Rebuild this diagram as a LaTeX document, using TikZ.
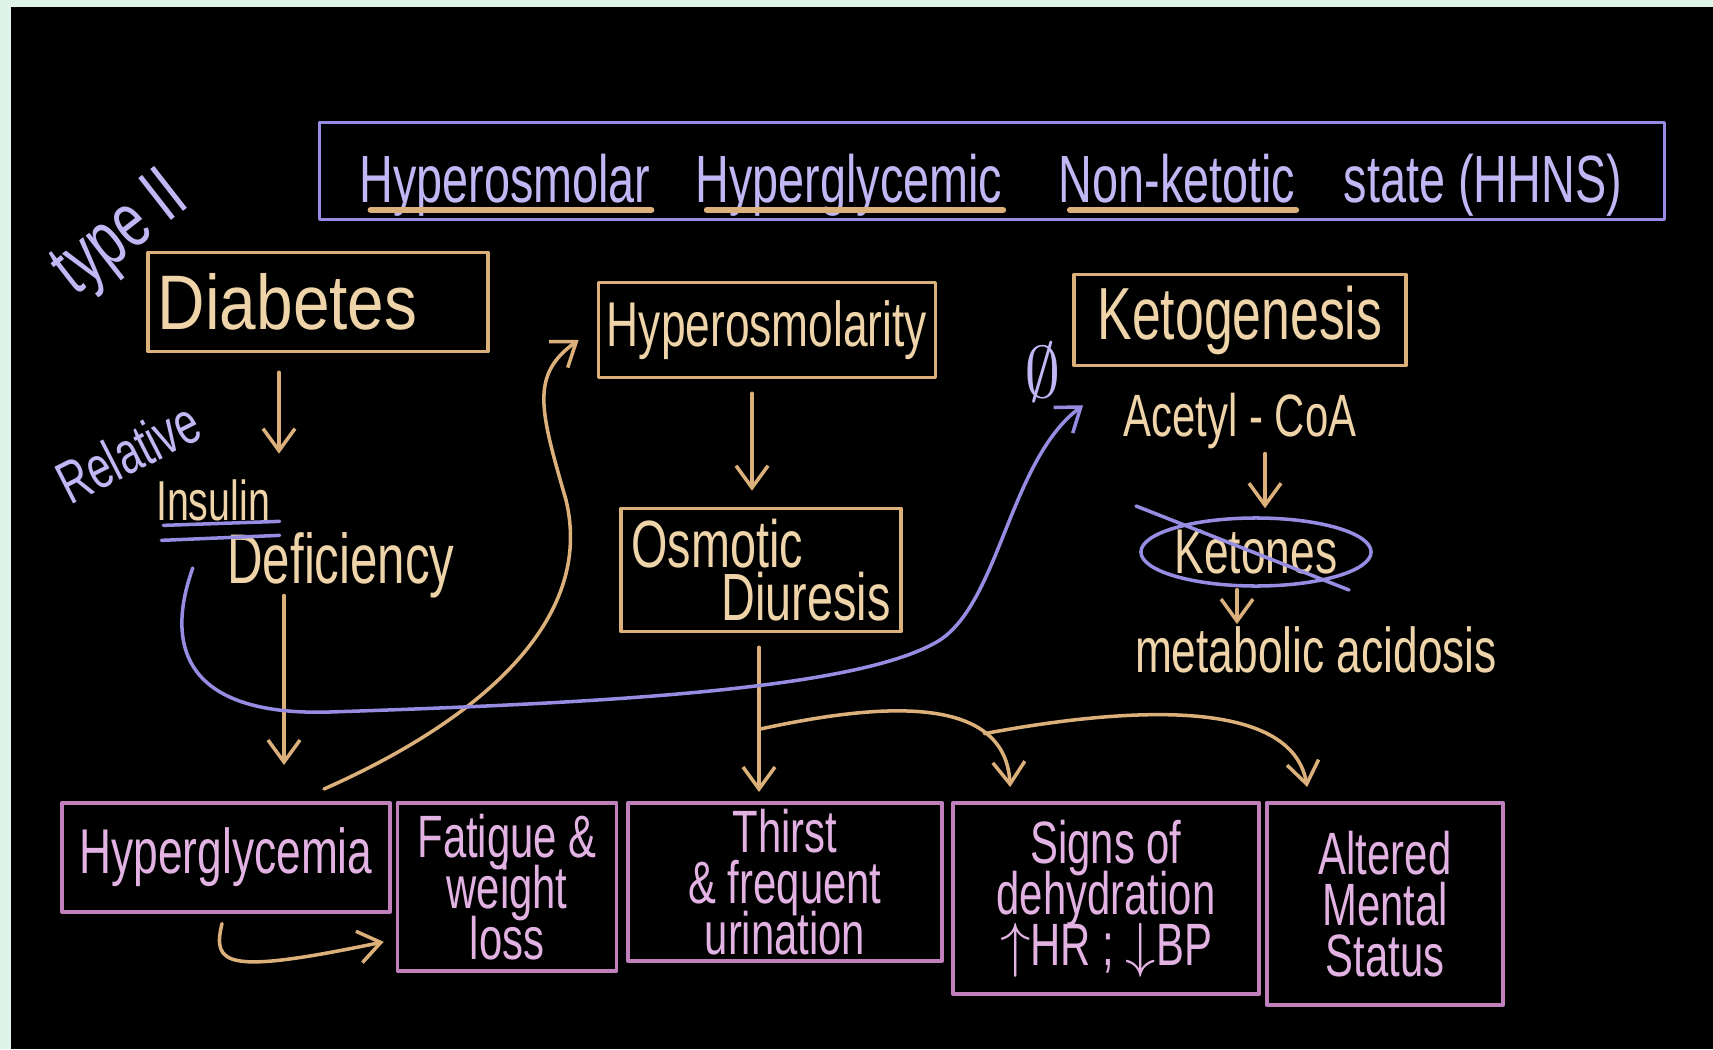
\documentclass[tikz,border=0pt]{standalone}
\usepackage{amsmath, amssymb}
\usepackage{fontspec}
\setmainfont{Liberation Sans}[FakeStretch=0.7]
\newfontfamily\widehand{Liberation Sans}[FakeStretch=0.85]
\usetikzlibrary{arrows.meta, shapes.geometric, calc}

\definecolor{mint}{RGB}{222,244,234}
\definecolor{lavline}{RGB}{150,140,225}
\definecolor{lavtxt}{RGB}{192,184,245}
\definecolor{tanline}{RGB}{220,176,122}
\definecolor{tantxt}{RGB}{238,212,168}
\definecolor{pinkline}{RGB}{192,128,188}
\definecolor{pinktxt}{RGB}{226,178,226}

\newcommand{\fsz}[1]{\fontsize{#1}{#1}\selectfont}
\newcommand{\tightlines}{\fontsize{17}{14.5}\selectfont\lineskiplimit-20pt\relax}

\begin{document}
\begin{tikzpicture}[x = 0.01cm, y = -0.01cm,
        every node/.style = {inner sep = 0pt},
        hand/.style = {line width = 1pt, line cap = round, line join = round},
        arr/.style = {hand, -{Straight Barb[length = 2.2mm, width = 3.2mm]}},
        tanbox/.style = {draw = tanline, hand, text = tantxt},
        pinkbox/.style = {draw = pinkline, hand, text = pinktxt, anchor = north, align = center, font = \tightlines},
        lavword/.style = {text = lavtxt},
        tanword/.style = {text = tantxt},
        uline/.style = {tanline, line width = 1.8pt, line cap = round}]

            % board
            \useasboundingbox (0,0) rectangle (1713,1049);
            \fill[mint] (0,0) rectangle (1713,1049);
            \fill[black] (11,7) rectangle (1713,1049);

            % title
            \node (ttl) [draw = lavline, hand, minimum width = 13.44cm, minimum height = 0.97cm] at (992,171) {};
            \node (w1) [lavword, anchor = base, font = \fsz{19}] at (505,203) {Hyperosmolar};
            \node (w2) [lavword, anchor = base, font = \fsz{19}] at (849,203) {Hyperglycemic};
            \node (w3) [lavword, anchor = base, font = \fsz{19}] at (1177,203) {Non-ketotic};
            \node (w4) [lavword, anchor = base, font = \fsz{19}] at (1483,203) {state (HHNS)};
            \draw[uline] ($(w1.base west)+(12,7)$) -- ($(w1.base east)+(0,7)$);
            \draw[uline] ($(w2.base west)+(12,7)$) -- ($(w2.base east)+(0,7)$);
            \draw[uline] ($(w3.base west)+(12,7)$) -- ($(w3.base east)+(0,7)$);

            % left column
            \node (typ) [lavword, rotate = 38, font = \fsz{22}] at (122,236) {type II};
            \node (dia) [tanbox, minimum width = 3.4cm, minimum height = 0.99cm, text width = 3.2cm, align = left, font = \widehand\fsz{22}] at (318,302) {Diabetes};
            \node (rel) [lavword, rotate = 27, font = \fsz{17}] at (128,452) {Relative};
            \node (ins) [tanword, font = \fsz{16}] at (213,500) {Insulin};
            \node (def) [tanword, font = \fsz{20}] at (341,565) {Deficiency};
            \draw[lavline, hand] ($(ins.south west)+(8,4)$) -- ($(ins.south east)+(9,0)$);
            \draw[lavline, hand] ($(ins.south west)+(6,19)$) -- ($(ins.south east)+(9,14)$);

            % middle column
            \node (hos) [tanbox, minimum width = 3.37cm, minimum height = 0.95cm, font = \fsz{18}] at (767,330) {Hyperosmolarity};
            \node (osm) [tanbox, minimum width = 2.8cm, minimum height = 1.23cm, align = left, font = \fontsize{19}{15}\selectfont] at (761,570) {Osmotic\\\hspace*{0.9cm}Diuresis};

            % right column
            \node (keto) [tanbox, minimum width = 3.32cm, minimum height = 0.91cm, font = \fsz{21}] at (1240,320) {Ketogenesis};
            \node (nul) [lavword, font = \fsz{20}] at (1043,372) {$\emptyset$};
            \node (acoa) [tanword, font = \fsz{17}] at (1240,421) {Acetyl - CoA};
            \node (ket) [ellipse, draw = lavline, hand, text = tantxt, minimum width = 2.3cm, minimum height = 0.68cm, font = \fsz{18}] at (1256,552) {Ketones};
            \draw[lavline, hand] ($(ket.center)+(-120,-46)$) -- ($(ket.center)+(93,38)$);
            \node (acid) [tanword, font = \fsz{18}] at (1316,650) {metabolic acidosis};

            % signs and symptoms
            \node (hgl) [pinkbox, minimum width = 3.28cm, minimum height = 1.09cm, font = \fsz{18}] at (226,801) {Hyperglycemia};
            \node (fat) [pinkbox, minimum width = 2.19cm, minimum height = 1.68cm] at (507,801) {Fatigue \&\\weight\\loss};
            \node (thr) [pinkbox, minimum width = 3.14cm, minimum height = 1.58cm] at (785,801) {Thirst\\\& frequent\\urination};
            \node (sgn) [pinkbox, minimum width = 3.06cm, minimum height = 1.91cm] at (1106,801) {Signs of\\dehydration\\$\uparrow$HR ; $\downarrow$BP};
            \node (alt) [pinkbox, minimum width = 2.36cm, minimum height = 2.02cm] at (1385,801) {Altered\\Mental\\Status};

            % arrows
            \draw[arr, tanline] ($(dia.south)+(-39,19)$) -- ($(ins.north)+(66,-25)$);
            \draw[arr, tanline] ($(def.south)+(-57,-3)$) -- ($(hgl.north)+(58,-36)$);
            \draw[arr, tanline] ($(hos.south)+(-15,14)$) -- ($(osm.north)+(-9,-16)$);
            \draw[arr, tanline] ($(osm.south)+(-2,14)$) -- ($(thr.north)+(-26,-9)$);
            \draw[arr, tanline] ($(osm.south)+(-2,96)$) .. controls (870,705) and (1005,690) .. ($(sgn.north west)+(59,-14)$) coordinate[pos = 0.75] (fork);
            \draw[arr, tanline] (fork) .. controls (1100,712) and (1290,690) .. ($(alt.north west)+(42,-14)$);
            \draw[arr, tanline] ($(hgl.north)+(98,-12)$) .. controls (480,720) and (595,620) .. (566,500) .. controls (540,410) and (530,375) .. ($(hos.west)+(-18,10)$);
            \draw[arr, tanline] ($(hgl.south)+(-4,10)$) .. controls (212,965) and (225,975) .. ($(fat.west)+(-12,55)$);
            \draw[arr, lavline] ($(def.west)+(-34,3)$) .. controls (160,660) and (200,716) .. (330,712) .. controls (600,703) and (860,690) .. (940,640) .. controls (1000,600) and (1010,460) .. ($(keto.south west)+(11,38)$);
            \draw[arr, tanline] ($(acoa.south)+(25,4)$) -- ($(ket.north)+(9,-8)$);
            \draw[arr, tanline] ($(ket.south)+(-19,2)$) -- ($(acid.north)+(-79,-2)$);
\end{tikzpicture}
\end{document}
